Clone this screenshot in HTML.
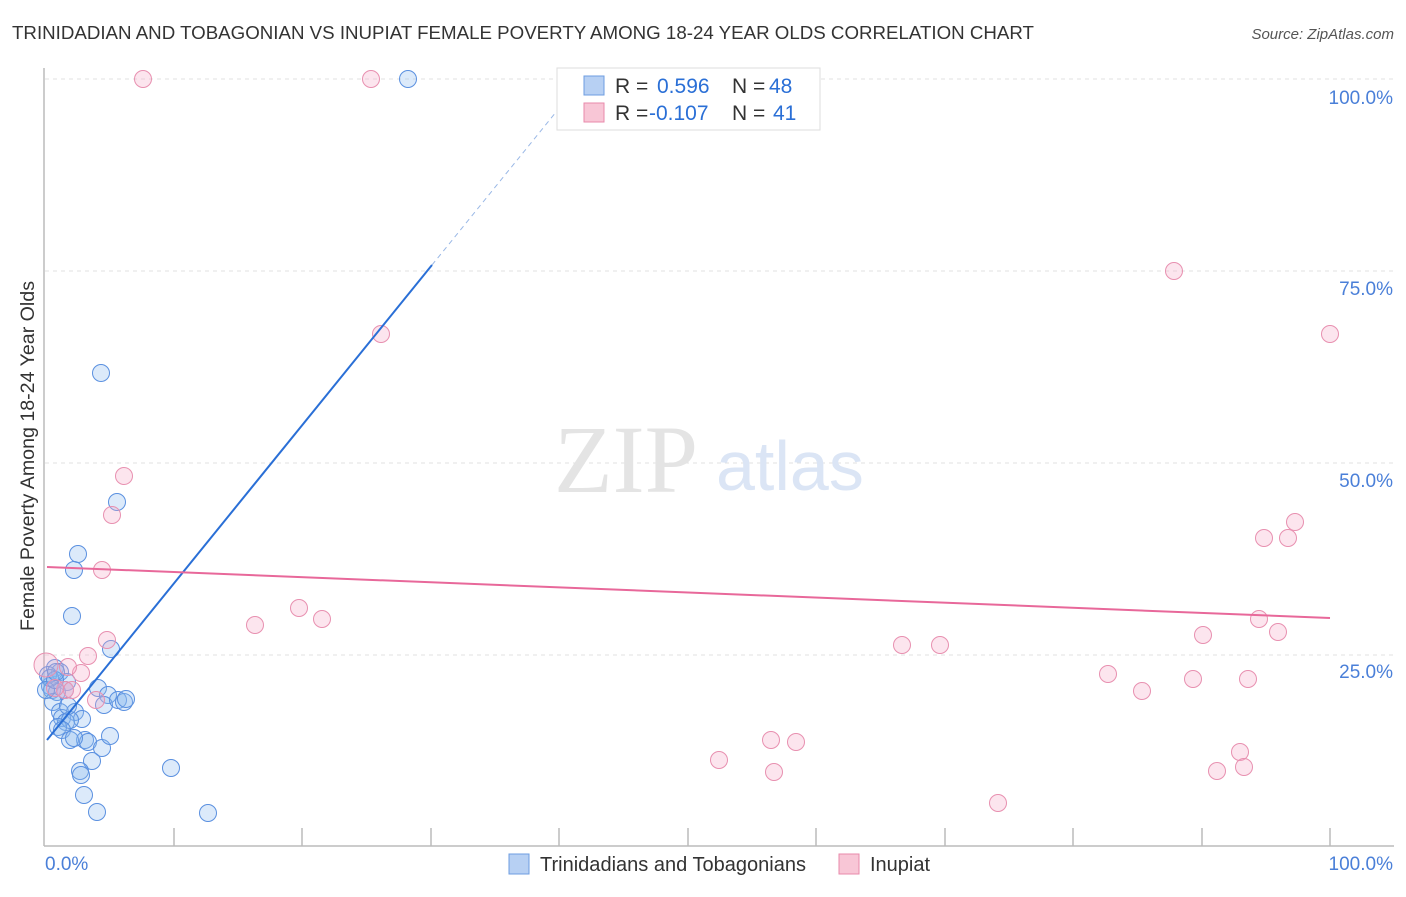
<!DOCTYPE html>
<html><head><style>
body{margin:0;background:#fff;font-family:"Liberation Sans",sans-serif;}
</style></head><body>
<svg width="1406" height="892" xmlns="http://www.w3.org/2000/svg" font-family="Liberation Sans, sans-serif">
<text x="12" y="39" font-size="18" fill="#333" textLength="1022" lengthAdjust="spacingAndGlyphs">TRINIDADIAN AND TOBAGONIAN VS INUPIAT FEMALE POVERTY AMONG 18-24 YEAR OLDS CORRELATION CHART</text>
<text x="1394" y="39" font-size="15" fill="#555" text-anchor="end" font-style="italic">Source: ZipAtlas.com</text>
<g stroke="#e2e2e2" stroke-dasharray="4,4">
<line x1="45" y1="79" x2="1394" y2="79"/><line x1="45" y1="271" x2="1394" y2="271"/>
<line x1="45" y1="463" x2="1394" y2="463"/><line x1="45" y1="655" x2="1394" y2="655"/>
</g>
<g stroke="#bbb" stroke-width="1.5">
<line x1="44" y1="68" x2="44" y2="846"/><line x1="44" y1="846" x2="1394" y2="846"/>
<line x1="174" y1="828" x2="174" y2="846"/><line x1="302" y1="828" x2="302" y2="846"/><line x1="431" y1="828" x2="431" y2="846"/><line x1="559" y1="828" x2="559" y2="846"/><line x1="688" y1="828" x2="688" y2="846"/><line x1="816" y1="828" x2="816" y2="846"/><line x1="945" y1="828" x2="945" y2="846"/><line x1="1073" y1="828" x2="1073" y2="846"/><line x1="1202" y1="828" x2="1202" y2="846"/><line x1="1330" y1="828" x2="1330" y2="846"/>
</g>
<g fill="#4a7fd8" font-size="19" text-anchor="end">
<text x="1393" y="104">100.0%</text><text x="1393" y="295">75.0%</text><text x="1393" y="487">50.0%</text><text x="1393" y="678">25.0%</text>
</g>
<text x="45" y="870" font-size="19" fill="#4a7fd8">0.0%</text>
<text x="1393" y="870" font-size="19" fill="#4a7fd8" text-anchor="end">100.0%</text>
<text x="34" y="456" font-size="19" fill="#333" text-anchor="middle" transform="rotate(-90 34 456)" textLength="350" lengthAdjust="spacingAndGlyphs">Female Poverty Among 18-24 Year Olds</text>
<text x="554" y="492" font-size="96" fill="#e4e4e4" font-family="Liberation Serif, serif">ZIP</text>
<text x="716" y="490" font-size="70" fill="#dbe5f5">atlas</text>
<g fill="rgba(140,185,240,0.3)" stroke="#5a90e0" stroke-width="1">
<circle cx="101" cy="373" r="8.5"/><circle cx="117" cy="502" r="8.5"/><circle cx="78" cy="554" r="8.5"/><circle cx="74" cy="570" r="8.5"/><circle cx="72" cy="616" r="8.5"/><circle cx="111" cy="649" r="8.5"/><circle cx="55" cy="668" r="8.5"/><circle cx="60" cy="672" r="8.5"/><circle cx="67" cy="682" r="8.5"/><circle cx="50" cy="686" r="8.5"/><circle cx="52" cy="690" r="8.5"/><circle cx="57" cy="692" r="8.5"/><circle cx="98" cy="688" r="8.5"/><circle cx="108" cy="695" r="8.5"/><circle cx="104" cy="705" r="8.5"/><circle cx="118" cy="700" r="8.5"/><circle cx="124" cy="702" r="8.5"/><circle cx="126" cy="699" r="8.5"/><circle cx="53" cy="702" r="8.5"/><circle cx="60" cy="712" r="8.5"/><circle cx="75" cy="712" r="8.5"/><circle cx="82" cy="719" r="8.5"/><circle cx="62" cy="718" r="8.5"/><circle cx="66" cy="722" r="8.5"/><circle cx="70" cy="720" r="8.5"/><circle cx="58" cy="727" r="8.5"/><circle cx="62" cy="730" r="8.5"/><circle cx="85" cy="740" r="8.5"/><circle cx="88" cy="742" r="8.5"/><circle cx="70" cy="740" r="8.5"/><circle cx="74" cy="738" r="8.5"/><circle cx="102" cy="748" r="8.5"/><circle cx="110" cy="736" r="8.5"/><circle cx="92" cy="761" r="8.5"/><circle cx="80" cy="771" r="8.5"/><circle cx="81" cy="775" r="8.5"/><circle cx="84" cy="795" r="8.5"/><circle cx="97" cy="812" r="8.5"/><circle cx="171" cy="768" r="8.5"/><circle cx="208" cy="813" r="8.5"/><circle cx="408" cy="79" r="8.5"/><circle cx="48" cy="675" r="8.5"/><circle cx="50" cy="678" r="8.5"/><circle cx="46" cy="690" r="8.5"/><circle cx="55" cy="680" r="8.5"/><circle cx="65" cy="690" r="8.5"/><circle cx="56" cy="672" r="8.5"/><circle cx="68" cy="706" r="8.5"/>
</g>
<g fill="rgba(245,170,200,0.3)" stroke="#e890b0" stroke-width="1">
<circle cx="143" cy="79" r="8.5"/><circle cx="371" cy="79" r="8.5"/><circle cx="651" cy="79" r="8.5"/><circle cx="1174" cy="271" r="8.5"/><circle cx="381" cy="334" r="8.5"/><circle cx="1330" cy="334" r="8.5"/><circle cx="124" cy="476" r="8.5"/><circle cx="112" cy="515" r="8.5"/><circle cx="102" cy="570" r="8.5"/><circle cx="1295" cy="522" r="8.5"/><circle cx="1264" cy="538" r="8.5"/><circle cx="1288" cy="538" r="8.5"/><circle cx="299" cy="608" r="8.5"/><circle cx="322" cy="619" r="8.5"/><circle cx="255" cy="625" r="8.5"/><circle cx="107" cy="640" r="8.5"/><circle cx="88" cy="656" r="8.5"/><circle cx="1259" cy="619" r="8.5"/><circle cx="1278" cy="632" r="8.5"/><circle cx="1203" cy="635" r="8.5"/><circle cx="902" cy="645" r="8.5"/><circle cx="940" cy="645" r="8.5"/><circle cx="1108" cy="674" r="8.5"/><circle cx="1142" cy="691" r="8.5"/><circle cx="1193" cy="679" r="8.5"/><circle cx="1248" cy="679" r="8.5"/><circle cx="719" cy="760" r="8.5"/><circle cx="771" cy="740" r="8.5"/><circle cx="796" cy="742" r="8.5"/><circle cx="774" cy="772" r="8.5"/><circle cx="1240" cy="752" r="8.5"/><circle cx="1217" cy="771" r="8.5"/><circle cx="1244" cy="767" r="8.5"/><circle cx="998" cy="803" r="8.5"/><circle cx="81" cy="673" r="8.5"/><circle cx="68" cy="667" r="8.5"/><circle cx="65" cy="690" r="8.5"/><circle cx="46" cy="665" r="12"/><circle cx="96" cy="700" r="8.5"/><circle cx="72" cy="690" r="8.5"/><circle cx="55" cy="688" r="8.5"/>
</g>
<line x1="47" y1="740" x2="432" y2="265" stroke="#2a6fd6" stroke-width="2"/>
<line x1="432" y1="265" x2="582" y2="80" stroke="#9ab8e6" stroke-width="1" stroke-dasharray="5,4"/>
<line x1="47" y1="567" x2="1330" y2="618" stroke="#e8689a" stroke-width="2"/>
<rect x="557" y="68" width="263" height="62" fill="#fff" stroke="#ddd"/>
<rect x="584" y="76" width="20" height="19" fill="#b7d0f3" stroke="#6d9de0"/>
<rect x="584" y="103" width="20" height="19" fill="#f8c6d6" stroke="#e88aab"/>
<g font-size="21">
<text x="615" y="93" fill="#333">R = </text><text x="657" y="93" fill="#2a6fd6">0.596</text>
<text x="732" y="93" fill="#333">N = </text><text x="769" y="93" fill="#2a6fd6">48</text>
<text x="615" y="120" fill="#333">R = </text><text x="649" y="120" fill="#2a6fd6">-0.107</text>
<text x="732" y="120" fill="#333">N = </text><text x="773" y="120" fill="#2a6fd6">41</text>
</g>
<rect x="509" y="854" width="20" height="20" fill="#b7d0f3" stroke="#6d9de0"/>
<text x="540" y="871" font-size="20" fill="#333" textLength="266" lengthAdjust="spacingAndGlyphs">Trinidadians and Tobagonians</text>
<rect x="839" y="854" width="20" height="20" fill="#f8c6d6" stroke="#e88aab"/>
<text x="870" y="871" font-size="20" fill="#333">Inupiat</text>
</svg>
</body></html>
